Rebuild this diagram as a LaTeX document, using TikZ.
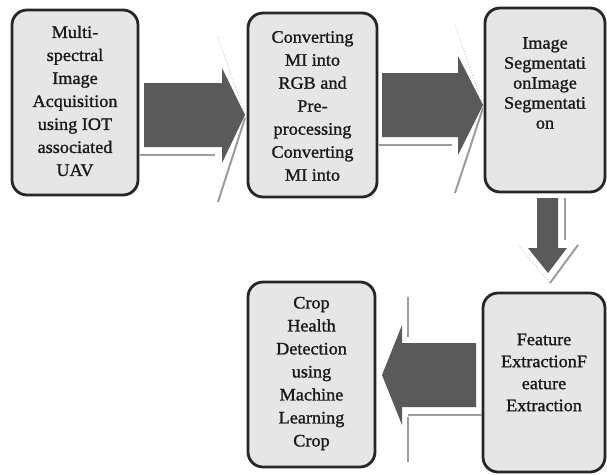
\documentclass[tikz,border=0pt]{standalone}
\usepackage{fontspec}
\setmainfont{Liberation Serif}
\newfontfamily\diagserif{Liberation Serif}[FakeBold=1.2,FakeStretch=1.04]
\definecolor{boxfill}{HTML}{E6E6E6}
\definecolor{boxline}{HTML}{262626}
\definecolor{arrowfill}{HTML}{5A5A5A}
\definecolor{shade}{HTML}{9C9C9C}
\begin{document}
\begin{tikzpicture}[x=1pt,y=-1pt,
  box/.style={draw=boxline, line width=2.8pt, fill=boxfill, rounded corners=15pt, inner sep=0pt},
  txt/.style={align=center, inner sep=0pt, text=black!90, font=\diagserif\fontsize{17.5}{23}\selectfont},
  blockarrow/.style={fill=arrowfill},
  shadeline/.style={draw=shade, line width=2.4pt},
  thinshade/.style={draw=shade, line width=1.3pt},
  dotshade/.style={draw=shade!70, line width=0.8pt, dotted}]
\useasboundingbox (0,0) rectangle (607,474);
\fill[white] (0,0) rectangle (607,474);

% boxes
\node[box, minimum width=126pt, minimum height=185pt] (b1) at (75,102.5) {};
\node[box, minimum width=129pt, minimum height=184pt] (b2) at (312.5,105) {};
\node[box, minimum width=120pt, minimum height=184pt] (b3) at (545,100) {};
\node[box, minimum width=122pt, minimum height=179pt] (b4) at (544,382.5) {};
\node[box, minimum width=127pt, minimum height=185pt] (b5) at (311.5,374.5) {};

% texts
\node[txt] (t1) at (b1.center) [yshift=1.5pt] {Multi-\\spectral\\Image\\Acquisition\\using IOT\\associated\\UAV};
\node[txt] (t2) at (b2.center) [yshift=-1pt] {Converting\\MI into\\RGB and\\Pre-\\processing\\Converting\\MI into};
\node[txt, font=\diagserif\fontsize{17.5}{20}\selectfont] (t3) at (b3.center) [yshift=17pt] {Image\\Segmentati\\onImage\\Segmentati\\on};
\node[txt, font=\diagserif\fontsize{17.5}{22}\selectfont] (t4) at (b4.center) [yshift=10pt] {Feature\\ExtractionF\\eature\\Extraction};
\node[txt] (t5) at (b5.center) [yshift=1pt] {Crop\\Health\\Detection\\using\\Machine\\Learning\\Crop};

% arrow 1: b1 -> b2
\draw[shadeline] (140,155) -- (215,155);
\draw[dotshade] (218,37) -- (245,115);
\draw[shadeline, line width=2pt] (245,118) -- (218,202);
\fill[blockarrow] (144,83) -- (222,83) -- (222,68) -- (245,115) -- (222,163) -- (222,147) -- (144,147) -- cycle;

% arrow 2: b2 -> b3
\draw[shadeline] (379,145) -- (452,145);
\draw[dotshade] (455,25) -- (483,105);
\draw[shadeline, line width=2pt] (483,108) -- (455,193);
\fill[blockarrow] (382,73) -- (458,73) -- (458,56) -- (483,105) -- (458,155) -- (458,137) -- (382,137) -- cycle;

% arrow 3: b3 -> b4
\draw[shadeline] (565,198) -- (565,240);
\draw[dotshade] (518,245) -- (550,283);
\draw[shadeline, line width=2pt] (578,245) -- (550,283);
\fill[blockarrow] (537,198) -- (558,198) -- (558,248) -- (567,248) -- (548,273) -- (528,248) -- (537,248) -- cycle;

% arrow 4: b4 -> b5
\draw[thinshade] (408,297) -- (408,337);
\draw[thinshade] (408,417) -- (408,462);
\draw[shadeline] (408,415) -- (b4.west |- 0,415);
\fill[blockarrow] (476,343) -- (402,343) -- (402,325) -- (382,375) -- (402,425) -- (402,407) -- (476,407) -- cycle;
\end{tikzpicture}
\end{document}
